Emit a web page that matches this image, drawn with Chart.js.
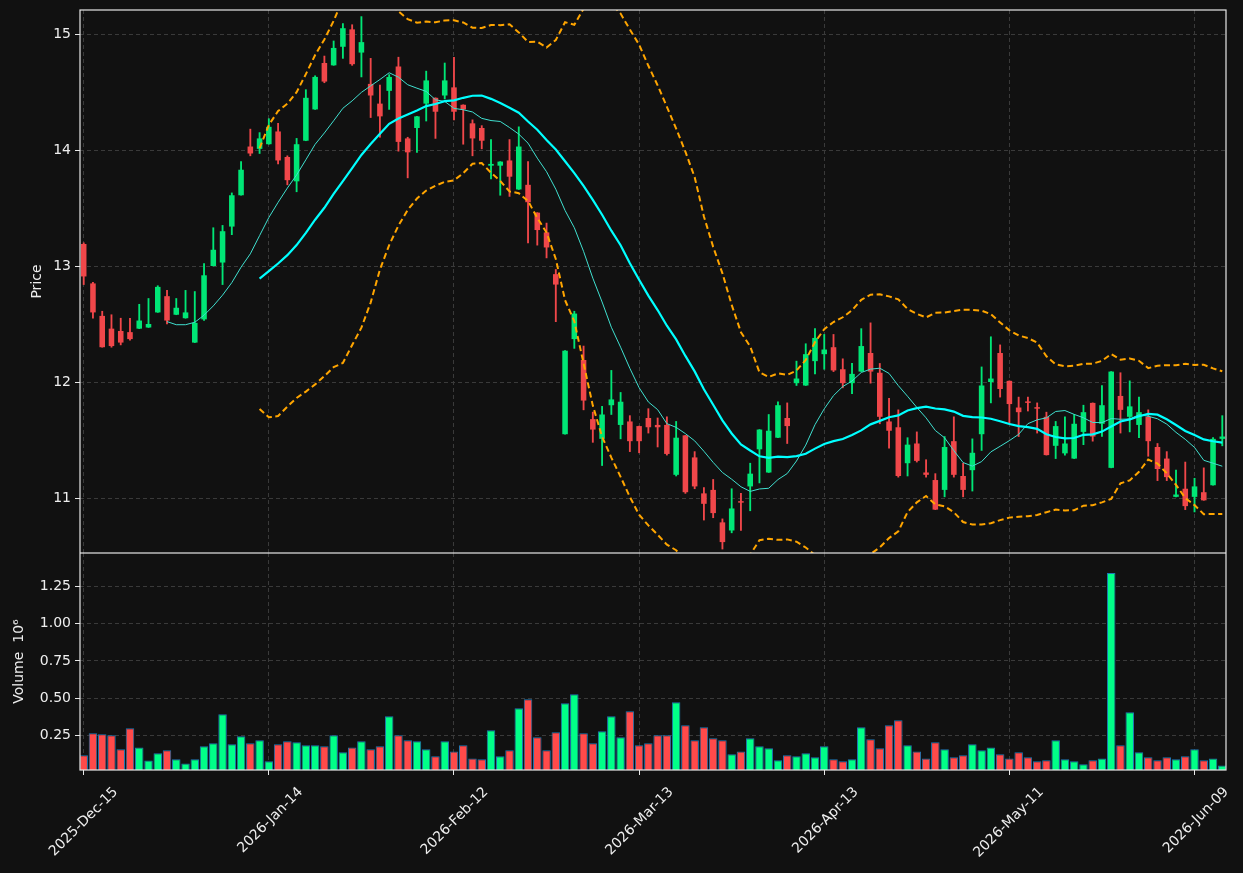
<!DOCTYPE html>
<html>
<head>
<meta charset="utf-8">
<script src="https://cdn.jsdelivr.net/npm/chart.js@4/dist/chart.umd.min.js"></script>
<style>
  html, body { margin: 0; padding: 0; background: #111111; }
  #wrap { position: relative; width: 1243px; height: 873px; }
  #top { position: absolute; left: 0; top: 0; width: 1243px; height: 553px; }
  #bot { position: absolute; left: 0; top: 553px; width: 1243px; height: 320px; }
</style>
</head>
<body>
<div id="wrap">
  <div id="top"><canvas id="price"></canvas></div>
  <div id="bot"><canvas id="vol"></canvas></div>
</div>
<script>
// trading days
const dates = [
  "2025-12-15","2025-12-16","2025-12-17","2025-12-18","2025-12-19","2025-12-22","2025-12-23","2025-12-24","2025-12-26","2025-12-29","2025-12-30","2025-12-31",
  "2026-01-02","2026-01-05","2026-01-06","2026-01-07","2026-01-08","2026-01-09","2026-01-12","2026-01-13","2026-01-14","2026-01-15","2026-01-16","2026-01-20","2026-01-21","2026-01-22","2026-01-23","2026-01-26","2026-01-27","2026-01-28","2026-01-29","2026-01-30",
  "2026-02-02","2026-02-03","2026-02-04","2026-02-05","2026-02-06","2026-02-09","2026-02-10","2026-02-11","2026-02-12","2026-02-13","2026-02-17","2026-02-18","2026-02-19","2026-02-20","2026-02-23","2026-02-24","2026-02-25","2026-02-26","2026-02-27",
  "2026-03-02","2026-03-03","2026-03-04","2026-03-05","2026-03-06","2026-03-09","2026-03-10","2026-03-11","2026-03-12","2026-03-13","2026-03-16","2026-03-17","2026-03-18","2026-03-19","2026-03-20","2026-03-23","2026-03-24","2026-03-25","2026-03-26","2026-03-27","2026-03-30","2026-03-31",
  "2026-04-01","2026-04-02","2026-04-06","2026-04-07","2026-04-08","2026-04-09","2026-04-10","2026-04-13","2026-04-14","2026-04-15","2026-04-16","2026-04-17","2026-04-20","2026-04-21","2026-04-22","2026-04-23","2026-04-24","2026-04-27","2026-04-28","2026-04-29","2026-04-30",
  "2026-05-01","2026-05-04","2026-05-05","2026-05-06","2026-05-07","2026-05-08","2026-05-11","2026-05-12","2026-05-13","2026-05-14","2026-05-15","2026-05-18","2026-05-19","2026-05-20","2026-05-21","2026-05-22","2026-05-26","2026-05-27","2026-05-28","2026-05-29",
  "2026-06-01","2026-06-02","2026-06-03","2026-06-04","2026-06-05","2026-06-08","2026-06-09","2026-06-10","2026-06-11","2026-06-12"
];

const opens = [
  13.19,12.85,12.57,12.46,12.44,12.43,12.46,12.47,12.60,12.74,
  12.58,12.55,12.34,12.54,13.00,13.03,13.34,13.61,14.03,14.01,
  14.05,14.16,13.94,13.73,14.08,14.35,14.75,14.73,14.89,15.04,
  14.84,14.57,14.40,14.51,14.72,14.10,14.19,14.40,14.45,14.47,
  14.54,14.39,14.23,14.19,13.865,13.865,13.91,13.66,13.70,13.46,
  13.29,12.93,11.55,12.37,12.19,11.68,11.51,11.80,11.63,11.66,
  11.62,11.69,11.63,11.63,11.20,11.54,11.35,11.04,11.07,10.79,
  10.72,10.965,11.10,11.42,11.22,11.52,11.69,11.99,11.97,12.18,
  12.24,12.30,12.11,11.99,12.09,12.25,12.08,11.66,11.61,11.30,
  11.47,11.22,11.155,11.07,11.49,11.19,11.24,11.55,12.00,12.25,
  12.01,11.78,11.83,11.78,11.70,11.45,11.385,11.34,11.57,11.82,
  11.64,11.26,11.88,11.70,11.63,11.70,11.44,11.34,11.01,11.08,
  11.01,11.05,11.11,11.51
];
const highs = [
  13.20,12.86,12.61,12.58,12.55,12.55,12.67,12.72,12.83,12.79,
  12.72,12.79,12.78,13.02,13.33,13.35,13.63,13.90,14.18,14.15,
  14.27,14.23,13.95,14.10,14.52,14.64,14.81,14.94,15.09,15.08,
  15.15,14.79,14.56,14.65,14.80,14.11,14.29,14.68,14.45,14.75,
  14.80,14.39,14.26,14.21,14.09,13.90,14.09,14.20,13.90,13.46,
  13.37,12.97,12.27,12.61,12.31,11.74,11.79,12.10,11.91,11.71,
  11.62,11.77,11.69,11.70,11.66,11.54,11.40,11.09,11.16,10.82,
  11.08,11.04,11.30,11.59,11.72,11.83,11.82,12.18,12.33,12.46,
  12.41,12.41,12.20,12.16,12.46,12.51,12.16,11.86,11.76,11.52,
  11.57,11.33,11.21,11.53,11.70,11.30,11.51,12.13,12.39,12.32,
  12.01,11.87,11.87,11.82,11.74,11.66,11.70,11.72,11.80,11.82,
  11.97,12.09,12.08,12.01,11.87,11.76,11.47,11.40,11.24,11.31,
  11.17,11.26,11.52,11.71
];
const lows = [
  12.84,12.55,12.30,12.30,12.32,12.36,12.46,12.47,12.60,12.50,
  12.58,12.55,12.34,12.53,13.00,12.84,13.27,13.61,13.95,13.97,
  14.05,13.88,13.70,13.64,14.08,14.35,14.58,14.73,14.79,14.73,
  14.63,14.28,14.11,14.35,13.99,13.76,13.98,14.25,14.10,14.44,
  14.26,14.05,13.95,14.01,13.75,13.61,13.60,13.66,13.20,13.18,
  13.07,12.52,11.55,12.29,11.76,11.48,11.28,11.72,11.51,11.40,
  11.39,11.56,11.44,11.37,11.19,11.04,11.08,10.81,10.83,10.56,
  10.70,10.72,10.89,11.13,11.22,11.52,11.47,11.97,11.97,12.07,
  12.11,12.09,11.95,11.90,12.09,11.99,11.64,11.43,11.18,11.19,
  11.31,11.18,10.90,11.01,11.18,11.01,11.06,11.41,11.82,11.87,
  11.64,11.53,11.75,11.56,11.37,11.34,11.37,11.34,11.46,11.49,
  11.53,11.26,11.56,11.57,11.52,11.36,11.15,11.15,11.01,10.90,
  10.88,10.98,11.11,11.45
];
const closes = [
  12.91,12.60,12.30,12.31,12.34,12.37,12.53,12.50,12.82,12.53,
  12.64,12.60,12.51,12.92,13.14,13.30,13.61,13.83,13.97,14.10,
  14.20,13.91,13.74,14.05,14.45,14.63,14.59,14.88,15.05,14.74,
  14.93,14.47,14.29,14.63,14.07,13.98,14.29,14.60,14.33,14.60,
  14.33,14.35,14.10,14.08,13.88,13.90,13.77,14.03,13.55,13.31,
  13.16,12.84,12.27,12.59,11.84,11.59,11.72,11.85,11.83,11.49,
  11.49,11.61,11.61,11.38,11.52,11.05,11.10,10.95,10.87,10.62,
  10.91,10.96,11.21,11.59,11.58,11.80,11.62,12.03,12.24,12.38,
  12.28,12.10,11.99,12.07,12.31,12.09,11.70,11.58,11.19,11.46,
  11.32,11.20,10.90,11.44,11.20,11.07,11.39,11.97,12.03,11.94,
  11.81,11.74,11.82,11.77,11.37,11.62,11.47,11.64,11.74,11.53,
  11.80,12.09,11.76,11.79,11.74,11.49,11.25,11.18,11.03,10.93,
  11.10,10.98,11.51,11.53
];
// volume in millions of shares
const volumes = [
  0.116,0.264,0.257,0.250,0.156,0.297,0.169,0.080,0.129,0.149,
  0.089,0.060,0.089,0.176,0.196,0.391,0.190,0.243,0.196,0.217,
  0.075,0.190,0.210,0.203,0.183,0.183,0.176,0.250,0.136,0.169,
  0.210,0.156,0.176,0.378,0.250,0.217,0.210,0.156,0.109,0.210,
  0.142,0.183,0.095,0.089,0.284,0.109,0.149,0.432,0.492,0.237,
  0.149,0.270,0.465,0.526,0.264,0.196,0.277,0.378,0.237,0.412,
  0.183,0.196,0.250,0.250,0.472,0.317,0.217,0.304,0.230,0.217,
  0.122,0.142,0.230,0.176,0.163,0.082,0.116,0.109,0.129,0.102,
  0.176,0.089,0.075,0.089,0.304,0.223,0.163,0.317,0.351,0.183,
  0.142,0.095,0.203,0.156,0.102,0.116,0.190,0.149,0.169,0.122,
  0.095,0.136,0.102,0.075,0.082,0.217,0.089,0.075,0.055,0.082,
  0.095,1.340,0.183,0.405,0.136,0.102,0.082,0.102,0.089,0.109,
  0.156,0.082,0.095,0.048
];

const priceTicks = [11, 12, 13, 14, 15];
const volumeTicks = [0.25, 0.5, 0.75, 1.0, 1.25];
const dateTickIdx = [0, 20, 40, 60, 80, 100, 120];
const months = ["Jan","Feb","Mar","Apr","May","Jun","Jul","Aug","Sep","Oct","Nov","Dec"];

function fmtDate(s) {
  const p = s.split("-");
  return p[0] + "-" + months[+p[1] - 1] + "-" + p[2];
}

function sma(arr, n) {
  return arr.map((v, i) => {
    if (i < n - 1) return null;
    let s = 0;
    for (let k = i - n + 1; k <= i; k++) s += arr[k];
    return s / n;
  });
}
function band(arr, n, mult) {
  const mid = sma(arr, n);
  return arr.map((v, i) => {
    if (mid[i] === null) return null;
    let s = 0;
    for (let k = i - n + 1; k <= i; k++) s += (arr[k] - mid[i]) ** 2;
    return mid[i] + mult * Math.sqrt(s / n);
  });
}

const ma10 = sma(closes, 10);
const ma20 = sma(closes, 20);
const bbUp = band(closes, 20, 2);
const bbLo = band(closes, 20, -2);

const UP = "#00e676", DOWN = "#f0474a";
const VUP = "#00ff88", VDOWN = "#ff4a4a";
const isUp = closes.map((c, i) => c >= opens[i]);
const candleColors = isUp.map(u => u ? UP : DOWN);
const volColors = isUp.map(u => u ? VUP : VDOWN);

const xy = arr => arr.map((v, i) => ({ x: i, y: v }));

Chart.defaults.font.family = "'DejaVu Sans', sans-serif";
Chart.defaults.font.size = 14;
Chart.defaults.color = "#eeeeee";

const TXT = "#eeeeee";
const GRID = "#3a3a3a";
const XMIN = -0.4, XMAX = 123.4;

const framePlugin = {
  id: "frame",
  afterDraw(chart) {
    const a = chart.chartArea, c = chart.ctx;
    c.save();
    c.strokeStyle = "#e8e8e8";
    c.lineWidth = 1.2;
    c.strokeRect(a.left, a.top, a.right - a.left, a.bottom - a.top);
    c.restore();
  }
};

// keep the plot boxes where they are in the picture
function fixY(s) { s.width = 80; s.paddingTop = 0; s.paddingBottom = 0; }

new Chart(document.getElementById("price"), {
  type: "bar",
  data: {
    datasets: [
      {
        label: "wick", data: lows.map((l, i) => ({ x: i, y: [l, highs[i]] })),
        backgroundColor: candleColors, barThickness: 1.2, grouped: false, order: 4
      },
      {
        label: "body", data: opens.map((o, i) => ({ x: i, y: [o, closes[i]] })),
        backgroundColor: candleColors, categoryPercentage: 1, barPercentage: 0.6,
        minBarLength: 1.5, grouped: false, order: 3
      },
      {
        type: "line", label: "MA10", data: xy(ma10), borderColor: "#40e0d0",
        borderWidth: 1, pointRadius: 0, order: 2
      },
      {
        type: "line", label: "MA20", data: xy(ma20), borderColor: "#00ffff",
        borderWidth: 2.2, pointRadius: 0, order: 1
      },
      {
        type: "line", label: "BB upper", data: xy(bbUp), borderColor: "#ffa500",
        borderWidth: 2, borderDash: [6, 3.5], pointRadius: 0, order: 0
      },
      {
        type: "line", label: "BB lower", data: xy(bbLo), borderColor: "#ffa500",
        borderWidth: 2, borderDash: [6, 3.5], pointRadius: 0, order: 0
      }
    ]
  },
  options: {
    responsive: true, maintainAspectRatio: false, animation: false, devicePixelRatio: 1,
    layout: { padding: { top: 10, right: 17, left: 0, bottom: 0 } },
    plugins: { legend: { display: false }, tooltip: { enabled: false } },
    scales: {
      x: {
        type: "linear", min: XMIN, max: XMAX, offset: false,
        afterBuildTicks: s => { s.ticks = dateTickIdx.map(v => ({ value: v })); },
        afterFit: s => { s.height = 0; s.paddingLeft = 0; s.paddingRight = 0; },
        ticks: { display: false },
        grid: { color: GRID, drawTicks: false, offset: false },
        border: { display: false, dash: [4, 3] }
      },
      y: {
        type: "linear", position: "left", min: 10.526, max: 15.207, beginAtZero: false,
        afterBuildTicks: s => { s.ticks = priceTicks.map(v => ({ value: v })); },
        afterFit: fixY,
        ticks: { color: TXT, padding: 4, callback: v => String(v) },
        grid: { color: GRID, tickColor: "#e8e8e8", tickLength: 5 },
        border: { display: false, dash: [4, 3] },
        title: { display: true, text: "Price", color: TXT, font: { size: 14 }, padding: { top: 29, bottom: 0 } }
      }
    }
  },
  plugins: [framePlugin]
});

new Chart(document.getElementById("vol"), {
  type: "bar",
  data: {
    datasets: [
      {
        label: "Volume", data: xy(volumes),
        backgroundColor: volColors, borderColor: "#1f77b4", borderWidth: 1,
        borderSkipped: false, categoryPercentage: 1, barPercentage: 0.92
      }
    ]
  },
  options: {
    responsive: true, maintainAspectRatio: false, animation: false, devicePixelRatio: 1,
    layout: { padding: { top: 0, right: 17, left: 0, bottom: 0 } },
    plugins: { legend: { display: false }, tooltip: { enabled: false } },
    scales: {
      x: {
        type: "linear", min: XMIN, max: XMAX, offset: false,
        afterBuildTicks: s => { s.ticks = dateTickIdx.map(v => ({ value: v })); },
        afterFit: s => { s.height = 103; s.paddingLeft = 0; s.paddingRight = 0; },
        ticks: {
          color: TXT, autoSkip: false, minRotation: 45, maxRotation: 45,
          padding: 9, labelOffset: 32,
          callback: v => fmtDate(dates[v])
        },
        grid: { color: GRID, tickColor: "#e8e8e8", tickLength: 5, offset: false },
        border: { display: false, dash: [4, 3] }
      },
      y: {
        type: "linear", position: "left", min: 0.017, max: 1.475, beginAtZero: false,
        afterBuildTicks: s => { s.ticks = volumeTicks.map(v => ({ value: v })); },
        afterFit: fixY,
        ticks: { color: TXT, padding: 4, callback: v => v.toFixed(2) },
        grid: { color: GRID, tickColor: "#e8e8e8", tickLength: 5 },
        border: { display: false, dash: [4, 3] },
        title: { display: true, text: "Volume  10\u2076", color: TXT, font: { size: 14 }, padding: { top: 11, bottom: 0 } }
      }
    }
  },
  plugins: [framePlugin]
});
</script>
</body>
</html>
